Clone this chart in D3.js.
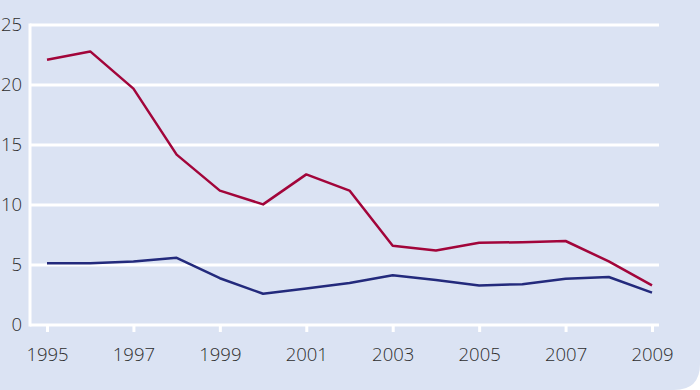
<!DOCTYPE html>
<html><head><meta charset="utf-8">
<script src="https://cdn.jsdelivr.net/npm/d3@7"></script>
<style>
html,body{margin:0;padding:0;background:#ffffff;}
svg{display:block;}
</style></head>
<body>
<svg id="chart" width="700" height="390"></svg>
<script>
const years = [1995,1996,1997,1998,1999,2000,2001,2002,2003,2004,2005,2006,2007,2008,2009];
const redSeries = [22.1,22.8,19.7,14.2,11.2,10.05,12.55,11.2,6.6,6.2,6.85,6.9,7.0,5.3,3.3];
const blueSeries = [5.15,5.15,5.3,5.6,3.9,2.6,3.05,3.5,4.15,3.75,3.3,3.4,3.85,4.0,2.7];
const xTickYears = [1995,1997,1999,2001,2003,2005,2007,2009];
const yTickValues = [0,5,10,15,20,25];

(function () {
const W = 700, H = 390;
const svg = d3.select("#chart");

// background panel with rounded bottom-right corner
const r = 26;
svg.append("path")
  .attr("d", `M0,0 H${W} V${H - r} Q${W},${H} ${W - r},${H} H0 Z`)
  .attr("fill", "#dbe3f3");

const mLeft = 30, mRight = 659, mTop = 25, mBottom = 325;
const x = d3.scaleLinear().domain([1995, 2009]).range([47, 652]);
const y = d3.scaleLinear().domain([0, 25]).range([mBottom, mTop]);

// horizontal grid lines
svg.append("g").selectAll("line").data(yTickValues).join("line")
  .attr("x1", mLeft).attr("x2", mRight)
  .attr("y1", d => y(d)).attr("y2", d => y(d))
  .attr("stroke", "#ffffff").attr("stroke-width", 3);

// left axis line
svg.append("line")
  .attr("x1", mLeft).attr("x2", mLeft)
  .attr("y1", mTop - 1.5).attr("y2", mBottom + 1.5)
  .attr("stroke", "#ffffff").attr("stroke-width", 3);

// y axis labels
const yAxis = d3.axisLeft(y).tickValues(yTickValues).tickSize(0).tickPadding(8).tickFormat(d3.format("d"));
const gy = svg.append("g").attr("transform", `translate(${mLeft},0)`).call(yAxis);
gy.select(".domain").remove();
gy.selectAll("text").attr("font-size", 18.5).attr("fill", "#2e2e2e")
  .attr("font-family", "'Open Sans', sans-serif").attr("font-weight", 300);

// x axis
const xAxis = d3.axisBottom(x).tickValues(xTickYears).tickSize(7).tickPadding(16).tickFormat(d3.format("d"));
const gx = svg.append("g").attr("transform", `translate(0,${mBottom})`).call(xAxis);
gx.select(".domain").remove();
gx.selectAll("line").attr("stroke", "#ffffff").attr("stroke-width", 3);
gx.selectAll("text").attr("font-size", 18.5).attr("fill", "#2e2e2e")
  .attr("font-family", "'Open Sans', sans-serif").attr("font-weight", 300);

const line = d3.line().x((d, i) => x(years[i])).y(d => y(d));

svg.append("path").datum(redSeries)
  .attr("d", line).attr("fill", "none")
  .attr("stroke", "#a2053a").attr("stroke-width", 2.5).attr("stroke-linejoin", "round");

svg.append("path").datum(blueSeries)
  .attr("d", line).attr("fill", "none")
  .attr("stroke", "#232a7c").attr("stroke-width", 2.5).attr("stroke-linejoin", "round");
})();
</script>
</body></html>
